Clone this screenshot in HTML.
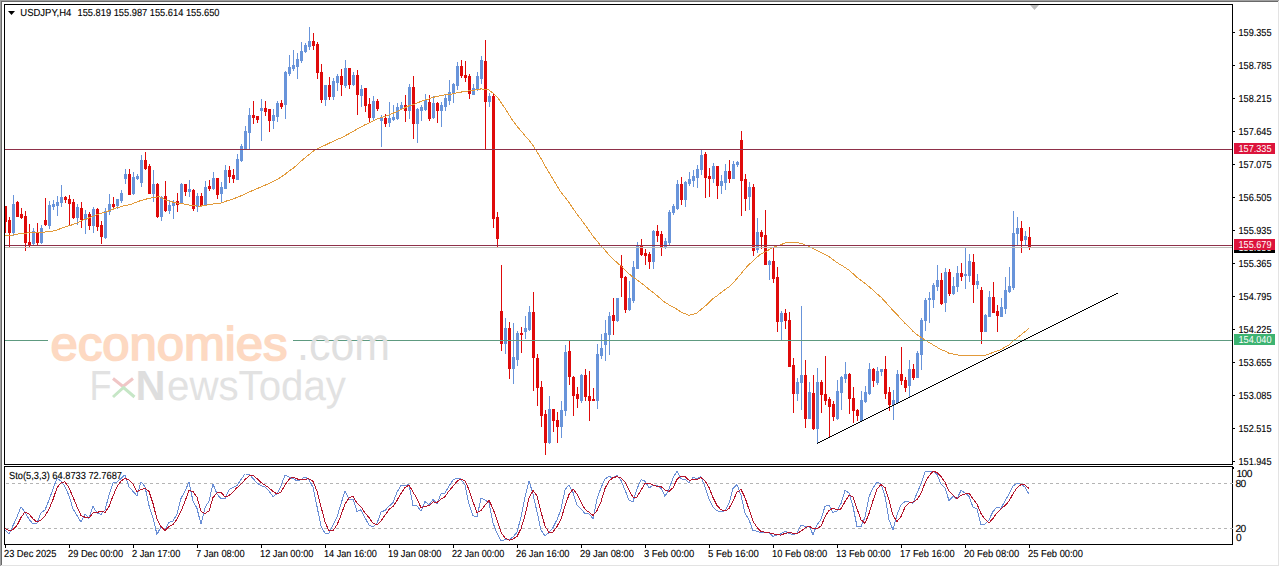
<!DOCTYPE html>
<html><head><meta charset="utf-8"><style>
html,body{margin:0;padding:0;background:#fff;width:1280px;height:567px;overflow:hidden}
</style></head><body>
<svg width="1280" height="567" viewBox="0 0 1280 567" style="display:block" text-rendering="geometricPrecision">
<rect x="0" y="0" width="1280" height="567" fill="#fff"/>
<g shape-rendering="crispEdges">
<rect x="0" y="0" width="1279" height="1" fill="#a0a0a0"/>
<rect x="0" y="0" width="1" height="566" fill="#a0a0a0"/>
<rect x="1" y="1" width="1277" height="1" fill="#696969"/>
<rect x="1" y="1" width="1" height="564" fill="#696969"/>
<rect x="1" y="565" width="1278" height="1" fill="#e3e3e3"/>
<rect x="1278" y="1" width="1" height="565" fill="#e3e3e3"/>
</g>
<g shape-rendering="crispEdges">
<rect x="5" y="206" width="1" height="27" fill="#df0a0a"/>
<rect x="4" y="206" width="3" height="16" fill="#df0a0a"/>
<rect x="9" y="217" width="1" height="31" fill="#df0a0a"/>
<rect x="8" y="220" width="3" height="13" fill="#df0a0a"/>
<rect x="13" y="195" width="1" height="41" fill="#6894da"/>
<rect x="12" y="204" width="3" height="29" fill="#6894da"/>
<rect x="17" y="201" width="1" height="16" fill="#df0a0a"/>
<rect x="16" y="202" width="3" height="15" fill="#df0a0a"/>
<rect x="21" y="208" width="1" height="11" fill="#df0a0a"/>
<rect x="20" y="214" width="3" height="4" fill="#df0a0a"/>
<rect x="25" y="211" width="1" height="40" fill="#df0a0a"/>
<rect x="24" y="216" width="3" height="27" fill="#df0a0a"/>
<rect x="29" y="224" width="1" height="24" fill="#df0a0a"/>
<rect x="28" y="242" width="3" height="3" fill="#df0a0a"/>
<rect x="33" y="228" width="1" height="17" fill="#6894da"/>
<rect x="32" y="231" width="3" height="13" fill="#6894da"/>
<rect x="37" y="223" width="1" height="23" fill="#df0a0a"/>
<rect x="36" y="232" width="3" height="11" fill="#df0a0a"/>
<rect x="41" y="225" width="1" height="19" fill="#6894da"/>
<rect x="40" y="228" width="3" height="15" fill="#6894da"/>
<rect x="45" y="198" width="1" height="28" fill="#df0a0a"/>
<rect x="44" y="220" width="3" height="5" fill="#df0a0a"/>
<rect x="49" y="201" width="1" height="28" fill="#6894da"/>
<rect x="48" y="205" width="3" height="21" fill="#6894da"/>
<rect x="53" y="200" width="1" height="10" fill="#6894da"/>
<rect x="52" y="204" width="3" height="3" fill="#6894da"/>
<rect x="57" y="196" width="1" height="20" fill="#6894da"/>
<rect x="56" y="202" width="3" height="4" fill="#6894da"/>
<rect x="61" y="185" width="1" height="22" fill="#6894da"/>
<rect x="60" y="197" width="3" height="6" fill="#6894da"/>
<rect x="65" y="196" width="1" height="7" fill="#df0a0a"/>
<rect x="64" y="197" width="3" height="3" fill="#df0a0a"/>
<rect x="69" y="195" width="1" height="30" fill="#df0a0a"/>
<rect x="68" y="199" width="3" height="5" fill="#df0a0a"/>
<rect x="73" y="199" width="1" height="20" fill="#df0a0a"/>
<rect x="72" y="202" width="3" height="16" fill="#df0a0a"/>
<rect x="77" y="204" width="1" height="21" fill="#6894da"/>
<rect x="76" y="207" width="3" height="11" fill="#6894da"/>
<rect x="81" y="202" width="1" height="26" fill="#df0a0a"/>
<rect x="80" y="208" width="3" height="12" fill="#df0a0a"/>
<rect x="85" y="210" width="1" height="24" fill="#6894da"/>
<rect x="84" y="214" width="3" height="6" fill="#6894da"/>
<rect x="89" y="212" width="1" height="18" fill="#df0a0a"/>
<rect x="88" y="214" width="3" height="12" fill="#df0a0a"/>
<rect x="93" y="207" width="1" height="26" fill="#6894da"/>
<rect x="92" y="209" width="3" height="17" fill="#6894da"/>
<rect x="97" y="208" width="1" height="23" fill="#df0a0a"/>
<rect x="96" y="209" width="3" height="18" fill="#df0a0a"/>
<rect x="101" y="221" width="1" height="23" fill="#df0a0a"/>
<rect x="100" y="225" width="3" height="12" fill="#df0a0a"/>
<rect x="105" y="208" width="1" height="31" fill="#6894da"/>
<rect x="104" y="211" width="3" height="27" fill="#6894da"/>
<rect x="109" y="194" width="1" height="21" fill="#6894da"/>
<rect x="108" y="204" width="3" height="8" fill="#6894da"/>
<rect x="113" y="197" width="1" height="11" fill="#df0a0a"/>
<rect x="112" y="204" width="3" height="3" fill="#df0a0a"/>
<rect x="117" y="199" width="1" height="10" fill="#6894da"/>
<rect x="116" y="199" width="3" height="7" fill="#6894da"/>
<rect x="121" y="190" width="1" height="13" fill="#6894da"/>
<rect x="120" y="193" width="3" height="8" fill="#6894da"/>
<rect x="125" y="169" width="1" height="15" fill="#6894da"/>
<rect x="124" y="174" width="3" height="5" fill="#6894da"/>
<rect x="129" y="169" width="1" height="26" fill="#df0a0a"/>
<rect x="128" y="174" width="3" height="21" fill="#df0a0a"/>
<rect x="133" y="172" width="1" height="23" fill="#6894da"/>
<rect x="132" y="177" width="3" height="17" fill="#6894da"/>
<rect x="137" y="174" width="1" height="6" fill="#6894da"/>
<rect x="136" y="176" width="3" height="3" fill="#6894da"/>
<rect x="141" y="155" width="1" height="32" fill="#6894da"/>
<rect x="140" y="160" width="3" height="23" fill="#6894da"/>
<rect x="145" y="152" width="1" height="18" fill="#df0a0a"/>
<rect x="144" y="160" width="3" height="9" fill="#df0a0a"/>
<rect x="149" y="164" width="1" height="30" fill="#df0a0a"/>
<rect x="148" y="166" width="3" height="28" fill="#df0a0a"/>
<rect x="153" y="170" width="1" height="32" fill="#6894da"/>
<rect x="152" y="184" width="3" height="10" fill="#6894da"/>
<rect x="157" y="183" width="1" height="35" fill="#df0a0a"/>
<rect x="156" y="184" width="3" height="33" fill="#df0a0a"/>
<rect x="161" y="196" width="1" height="25" fill="#6894da"/>
<rect x="160" y="197" width="3" height="20" fill="#6894da"/>
<rect x="165" y="181" width="1" height="31" fill="#df0a0a"/>
<rect x="164" y="196" width="3" height="15" fill="#df0a0a"/>
<rect x="169" y="200" width="1" height="14" fill="#6894da"/>
<rect x="168" y="205" width="3" height="6" fill="#6894da"/>
<rect x="173" y="200" width="1" height="19" fill="#6894da"/>
<rect x="172" y="202" width="3" height="4" fill="#6894da"/>
<rect x="177" y="193" width="1" height="19" fill="#df0a0a"/>
<rect x="176" y="201" width="3" height="4" fill="#df0a0a"/>
<rect x="181" y="183" width="1" height="21" fill="#6894da"/>
<rect x="180" y="184" width="3" height="20" fill="#6894da"/>
<rect x="185" y="184" width="1" height="12" fill="#df0a0a"/>
<rect x="184" y="184" width="3" height="8" fill="#df0a0a"/>
<rect x="189" y="180" width="1" height="17" fill="#6894da"/>
<rect x="188" y="189" width="3" height="3" fill="#6894da"/>
<rect x="193" y="189" width="1" height="22" fill="#df0a0a"/>
<rect x="192" y="190" width="3" height="19" fill="#df0a0a"/>
<rect x="197" y="193" width="1" height="19" fill="#6894da"/>
<rect x="196" y="196" width="3" height="11" fill="#6894da"/>
<rect x="201" y="193" width="1" height="14" fill="#df0a0a"/>
<rect x="200" y="196" width="3" height="10" fill="#df0a0a"/>
<rect x="205" y="181" width="1" height="24" fill="#6894da"/>
<rect x="204" y="187" width="3" height="18" fill="#6894da"/>
<rect x="209" y="180" width="1" height="11" fill="#df0a0a"/>
<rect x="208" y="186" width="3" height="3" fill="#df0a0a"/>
<rect x="213" y="172" width="1" height="18" fill="#6894da"/>
<rect x="212" y="178" width="3" height="11" fill="#6894da"/>
<rect x="217" y="178" width="1" height="21" fill="#df0a0a"/>
<rect x="216" y="178" width="3" height="17" fill="#df0a0a"/>
<rect x="221" y="182" width="1" height="20" fill="#6894da"/>
<rect x="220" y="187" width="3" height="7" fill="#6894da"/>
<rect x="225" y="165" width="1" height="24" fill="#6894da"/>
<rect x="224" y="170" width="3" height="19" fill="#6894da"/>
<rect x="229" y="166" width="1" height="17" fill="#df0a0a"/>
<rect x="228" y="170" width="3" height="7" fill="#df0a0a"/>
<rect x="233" y="169" width="1" height="14" fill="#df0a0a"/>
<rect x="232" y="175" width="3" height="4" fill="#df0a0a"/>
<rect x="237" y="154" width="1" height="26" fill="#6894da"/>
<rect x="236" y="159" width="3" height="21" fill="#6894da"/>
<rect x="241" y="144" width="1" height="18" fill="#6894da"/>
<rect x="240" y="146" width="3" height="15" fill="#6894da"/>
<rect x="245" y="126" width="1" height="23" fill="#6894da"/>
<rect x="244" y="131" width="3" height="18" fill="#6894da"/>
<rect x="249" y="108" width="1" height="42" fill="#6894da"/>
<rect x="248" y="115" width="3" height="18" fill="#6894da"/>
<rect x="253" y="101" width="1" height="23" fill="#df0a0a"/>
<rect x="252" y="115" width="3" height="3" fill="#df0a0a"/>
<rect x="257" y="116" width="1" height="7" fill="#df0a0a"/>
<rect x="256" y="116" width="3" height="4" fill="#df0a0a"/>
<rect x="261" y="99" width="1" height="42" fill="#6894da"/>
<rect x="260" y="108" width="3" height="3" fill="#6894da"/>
<rect x="265" y="101" width="1" height="15" fill="#df0a0a"/>
<rect x="264" y="108" width="3" height="4" fill="#df0a0a"/>
<rect x="269" y="109" width="1" height="23" fill="#df0a0a"/>
<rect x="268" y="109" width="3" height="12" fill="#df0a0a"/>
<rect x="273" y="109" width="1" height="20" fill="#6894da"/>
<rect x="272" y="115" width="3" height="6" fill="#6894da"/>
<rect x="277" y="101" width="1" height="21" fill="#6894da"/>
<rect x="276" y="103" width="3" height="14" fill="#6894da"/>
<rect x="281" y="100" width="1" height="9" fill="#df0a0a"/>
<rect x="280" y="103" width="3" height="4" fill="#df0a0a"/>
<rect x="285" y="71" width="1" height="48" fill="#6894da"/>
<rect x="284" y="72" width="3" height="33" fill="#6894da"/>
<rect x="289" y="55" width="1" height="21" fill="#6894da"/>
<rect x="288" y="67" width="3" height="7" fill="#6894da"/>
<rect x="293" y="50" width="1" height="21" fill="#6894da"/>
<rect x="292" y="65" width="3" height="4" fill="#6894da"/>
<rect x="297" y="53" width="1" height="26" fill="#6894da"/>
<rect x="296" y="59" width="3" height="8" fill="#6894da"/>
<rect x="301" y="42" width="1" height="21" fill="#6894da"/>
<rect x="300" y="51" width="3" height="10" fill="#6894da"/>
<rect x="305" y="43" width="1" height="10" fill="#6894da"/>
<rect x="304" y="45" width="3" height="7" fill="#6894da"/>
<rect x="309" y="27" width="1" height="23" fill="#6894da"/>
<rect x="308" y="41" width="3" height="6" fill="#6894da"/>
<rect x="313" y="33" width="1" height="17" fill="#df0a0a"/>
<rect x="312" y="41" width="3" height="5" fill="#df0a0a"/>
<rect x="317" y="42" width="1" height="37" fill="#df0a0a"/>
<rect x="316" y="44" width="3" height="29" fill="#df0a0a"/>
<rect x="321" y="64" width="1" height="39" fill="#df0a0a"/>
<rect x="320" y="72" width="3" height="28" fill="#df0a0a"/>
<rect x="325" y="85" width="1" height="21" fill="#6894da"/>
<rect x="324" y="85" width="3" height="15" fill="#6894da"/>
<rect x="329" y="77" width="1" height="23" fill="#df0a0a"/>
<rect x="328" y="85" width="3" height="12" fill="#df0a0a"/>
<rect x="333" y="78" width="1" height="22" fill="#6894da"/>
<rect x="332" y="81" width="3" height="16" fill="#6894da"/>
<rect x="337" y="74" width="1" height="17" fill="#6894da"/>
<rect x="336" y="76" width="3" height="7" fill="#6894da"/>
<rect x="341" y="69" width="1" height="27" fill="#df0a0a"/>
<rect x="340" y="76" width="3" height="9" fill="#df0a0a"/>
<rect x="345" y="60" width="1" height="28" fill="#6894da"/>
<rect x="344" y="68" width="3" height="18" fill="#6894da"/>
<rect x="349" y="68" width="1" height="21" fill="#df0a0a"/>
<rect x="348" y="68" width="3" height="17" fill="#df0a0a"/>
<rect x="353" y="72" width="1" height="14" fill="#6894da"/>
<rect x="352" y="75" width="3" height="10" fill="#6894da"/>
<rect x="357" y="70" width="1" height="45" fill="#df0a0a"/>
<rect x="356" y="75" width="3" height="20" fill="#df0a0a"/>
<rect x="361" y="85" width="1" height="22" fill="#6894da"/>
<rect x="360" y="89" width="3" height="7" fill="#6894da"/>
<rect x="365" y="88" width="1" height="24" fill="#df0a0a"/>
<rect x="364" y="88" width="3" height="18" fill="#df0a0a"/>
<rect x="369" y="98" width="1" height="24" fill="#df0a0a"/>
<rect x="368" y="104" width="3" height="14" fill="#df0a0a"/>
<rect x="373" y="96" width="1" height="25" fill="#6894da"/>
<rect x="372" y="101" width="3" height="17" fill="#6894da"/>
<rect x="377" y="99" width="1" height="12" fill="#df0a0a"/>
<rect x="376" y="101" width="3" height="8" fill="#df0a0a"/>
<rect x="381" y="115" width="1" height="32" fill="#6894da"/>
<rect x="380" y="118" width="3" height="3" fill="#6894da"/>
<rect x="385" y="114" width="1" height="13" fill="#df0a0a"/>
<rect x="384" y="118" width="3" height="6" fill="#df0a0a"/>
<rect x="389" y="102" width="1" height="25" fill="#6894da"/>
<rect x="388" y="118" width="3" height="5" fill="#6894da"/>
<rect x="393" y="105" width="1" height="16" fill="#6894da"/>
<rect x="392" y="117" width="3" height="3" fill="#6894da"/>
<rect x="397" y="103" width="1" height="17" fill="#6894da"/>
<rect x="396" y="107" width="3" height="12" fill="#6894da"/>
<rect x="401" y="102" width="1" height="7" fill="#6894da"/>
<rect x="400" y="105" width="3" height="4" fill="#6894da"/>
<rect x="405" y="95" width="1" height="27" fill="#df0a0a"/>
<rect x="404" y="105" width="3" height="6" fill="#df0a0a"/>
<rect x="409" y="84" width="1" height="35" fill="#6894da"/>
<rect x="408" y="87" width="3" height="24" fill="#6894da"/>
<rect x="413" y="76" width="1" height="63" fill="#df0a0a"/>
<rect x="412" y="87" width="3" height="37" fill="#df0a0a"/>
<rect x="417" y="108" width="1" height="35" fill="#6894da"/>
<rect x="416" y="109" width="3" height="15" fill="#6894da"/>
<rect x="421" y="105" width="1" height="16" fill="#6894da"/>
<rect x="420" y="107" width="3" height="4" fill="#6894da"/>
<rect x="425" y="94" width="1" height="17" fill="#6894da"/>
<rect x="424" y="100" width="3" height="10" fill="#6894da"/>
<rect x="429" y="95" width="1" height="26" fill="#df0a0a"/>
<rect x="428" y="102" width="3" height="17" fill="#df0a0a"/>
<rect x="433" y="96" width="1" height="23" fill="#6894da"/>
<rect x="432" y="103" width="3" height="15" fill="#6894da"/>
<rect x="437" y="102" width="1" height="21" fill="#df0a0a"/>
<rect x="436" y="103" width="3" height="8" fill="#df0a0a"/>
<rect x="441" y="102" width="1" height="25" fill="#6894da"/>
<rect x="440" y="105" width="3" height="6" fill="#6894da"/>
<rect x="445" y="95" width="1" height="16" fill="#6894da"/>
<rect x="444" y="98" width="3" height="9" fill="#6894da"/>
<rect x="449" y="80" width="1" height="25" fill="#6894da"/>
<rect x="448" y="92" width="3" height="9" fill="#6894da"/>
<rect x="453" y="83" width="1" height="20" fill="#6894da"/>
<rect x="452" y="84" width="3" height="10" fill="#6894da"/>
<rect x="457" y="62" width="1" height="28" fill="#6894da"/>
<rect x="456" y="66" width="3" height="20" fill="#6894da"/>
<rect x="461" y="60" width="1" height="18" fill="#df0a0a"/>
<rect x="460" y="66" width="3" height="10" fill="#df0a0a"/>
<rect x="465" y="61" width="1" height="21" fill="#df0a0a"/>
<rect x="464" y="75" width="3" height="3" fill="#df0a0a"/>
<rect x="469" y="74" width="1" height="25" fill="#df0a0a"/>
<rect x="468" y="76" width="3" height="18" fill="#df0a0a"/>
<rect x="473" y="84" width="1" height="11" fill="#6894da"/>
<rect x="472" y="88" width="3" height="7" fill="#6894da"/>
<rect x="477" y="72" width="1" height="19" fill="#6894da"/>
<rect x="476" y="76" width="3" height="14" fill="#6894da"/>
<rect x="481" y="56" width="1" height="28" fill="#6894da"/>
<rect x="480" y="60" width="3" height="19" fill="#6894da"/>
<rect x="485" y="40" width="1" height="110" fill="#df0a0a"/>
<rect x="484" y="61" width="3" height="41" fill="#df0a0a"/>
<rect x="489" y="93" width="1" height="14" fill="#6894da"/>
<rect x="488" y="96" width="3" height="6" fill="#6894da"/>
<rect x="493" y="94" width="1" height="134" fill="#df0a0a"/>
<rect x="492" y="96" width="3" height="123" fill="#df0a0a"/>
<rect x="497" y="212" width="1" height="35" fill="#df0a0a"/>
<rect x="496" y="217" width="3" height="22" fill="#df0a0a"/>
<rect x="501" y="265" width="1" height="86" fill="#df0a0a"/>
<rect x="500" y="311" width="3" height="33" fill="#df0a0a"/>
<rect x="505" y="318" width="1" height="36" fill="#6894da"/>
<rect x="504" y="328" width="3" height="16" fill="#6894da"/>
<rect x="509" y="322" width="1" height="57" fill="#df0a0a"/>
<rect x="508" y="328" width="3" height="41" fill="#df0a0a"/>
<rect x="513" y="323" width="1" height="61" fill="#6894da"/>
<rect x="512" y="357" width="3" height="12" fill="#6894da"/>
<rect x="517" y="331" width="1" height="35" fill="#6894da"/>
<rect x="516" y="333" width="3" height="27" fill="#6894da"/>
<rect x="521" y="327" width="1" height="26" fill="#df0a0a"/>
<rect x="520" y="333" width="3" height="2" fill="#df0a0a"/>
<rect x="525" y="316" width="1" height="23" fill="#6894da"/>
<rect x="524" y="328" width="3" height="4" fill="#6894da"/>
<rect x="529" y="306" width="1" height="25" fill="#6894da"/>
<rect x="528" y="312" width="3" height="18" fill="#6894da"/>
<rect x="533" y="292" width="1" height="99" fill="#df0a0a"/>
<rect x="532" y="312" width="3" height="46" fill="#df0a0a"/>
<rect x="537" y="354" width="1" height="52" fill="#df0a0a"/>
<rect x="536" y="358" width="3" height="30" fill="#df0a0a"/>
<rect x="541" y="381" width="1" height="46" fill="#df0a0a"/>
<rect x="540" y="387" width="3" height="29" fill="#df0a0a"/>
<rect x="545" y="410" width="1" height="45" fill="#df0a0a"/>
<rect x="544" y="414" width="3" height="29" fill="#df0a0a"/>
<rect x="549" y="396" width="1" height="48" fill="#6894da"/>
<rect x="548" y="409" width="3" height="34" fill="#6894da"/>
<rect x="553" y="409" width="1" height="23" fill="#df0a0a"/>
<rect x="552" y="409" width="3" height="12" fill="#df0a0a"/>
<rect x="557" y="412" width="1" height="31" fill="#df0a0a"/>
<rect x="556" y="420" width="3" height="7" fill="#df0a0a"/>
<rect x="561" y="401" width="1" height="37" fill="#6894da"/>
<rect x="560" y="410" width="3" height="17" fill="#6894da"/>
<rect x="565" y="345" width="1" height="71" fill="#6894da"/>
<rect x="564" y="352" width="3" height="59" fill="#6894da"/>
<rect x="569" y="341" width="1" height="44" fill="#df0a0a"/>
<rect x="568" y="351" width="3" height="26" fill="#df0a0a"/>
<rect x="573" y="376" width="1" height="40" fill="#df0a0a"/>
<rect x="572" y="377" width="3" height="19" fill="#df0a0a"/>
<rect x="577" y="387" width="1" height="21" fill="#df0a0a"/>
<rect x="576" y="394" width="3" height="5" fill="#df0a0a"/>
<rect x="581" y="374" width="1" height="29" fill="#6894da"/>
<rect x="580" y="375" width="3" height="26" fill="#6894da"/>
<rect x="585" y="369" width="1" height="32" fill="#df0a0a"/>
<rect x="584" y="375" width="3" height="22" fill="#df0a0a"/>
<rect x="589" y="371" width="1" height="50" fill="#df0a0a"/>
<rect x="588" y="396" width="3" height="5" fill="#df0a0a"/>
<rect x="593" y="388" width="1" height="13" fill="#df0a0a"/>
<rect x="592" y="399" width="3" height="2" fill="#df0a0a"/>
<rect x="597" y="344" width="1" height="65" fill="#6894da"/>
<rect x="596" y="354" width="3" height="47" fill="#6894da"/>
<rect x="601" y="334" width="1" height="25" fill="#6894da"/>
<rect x="600" y="348" width="3" height="8" fill="#6894da"/>
<rect x="605" y="320" width="1" height="41" fill="#6894da"/>
<rect x="604" y="333" width="3" height="12" fill="#6894da"/>
<rect x="609" y="312" width="1" height="43" fill="#6894da"/>
<rect x="608" y="316" width="3" height="19" fill="#6894da"/>
<rect x="613" y="298" width="1" height="37" fill="#df0a0a"/>
<rect x="612" y="315" width="3" height="6" fill="#df0a0a"/>
<rect x="617" y="298" width="1" height="24" fill="#6894da"/>
<rect x="616" y="298" width="3" height="23" fill="#6894da"/>
<rect x="621" y="255" width="1" height="42" fill="#df0a0a"/>
<rect x="620" y="266" width="3" height="12" fill="#df0a0a"/>
<rect x="625" y="276" width="1" height="37" fill="#df0a0a"/>
<rect x="624" y="277" width="3" height="33" fill="#df0a0a"/>
<rect x="629" y="281" width="1" height="30" fill="#6894da"/>
<rect x="628" y="298" width="3" height="12" fill="#6894da"/>
<rect x="633" y="261" width="1" height="42" fill="#6894da"/>
<rect x="632" y="267" width="3" height="34" fill="#6894da"/>
<rect x="637" y="242" width="1" height="27" fill="#6894da"/>
<rect x="636" y="246" width="3" height="23" fill="#6894da"/>
<rect x="641" y="239" width="1" height="17" fill="#df0a0a"/>
<rect x="640" y="245" width="3" height="10" fill="#df0a0a"/>
<rect x="645" y="249" width="1" height="16" fill="#df0a0a"/>
<rect x="644" y="253" width="3" height="3" fill="#df0a0a"/>
<rect x="649" y="252" width="1" height="17" fill="#df0a0a"/>
<rect x="648" y="254" width="3" height="8" fill="#df0a0a"/>
<rect x="653" y="230" width="1" height="39" fill="#6894da"/>
<rect x="652" y="231" width="3" height="31" fill="#6894da"/>
<rect x="657" y="225" width="1" height="17" fill="#df0a0a"/>
<rect x="656" y="231" width="3" height="5" fill="#df0a0a"/>
<rect x="661" y="231" width="1" height="25" fill="#df0a0a"/>
<rect x="660" y="234" width="3" height="14" fill="#df0a0a"/>
<rect x="665" y="238" width="1" height="11" fill="#6894da"/>
<rect x="664" y="241" width="3" height="7" fill="#6894da"/>
<rect x="669" y="210" width="1" height="36" fill="#6894da"/>
<rect x="668" y="212" width="3" height="31" fill="#6894da"/>
<rect x="673" y="204" width="1" height="11" fill="#6894da"/>
<rect x="672" y="206" width="3" height="7" fill="#6894da"/>
<rect x="677" y="180" width="1" height="30" fill="#6894da"/>
<rect x="676" y="184" width="3" height="25" fill="#6894da"/>
<rect x="681" y="177" width="1" height="28" fill="#df0a0a"/>
<rect x="680" y="184" width="3" height="16" fill="#df0a0a"/>
<rect x="685" y="181" width="1" height="26" fill="#6894da"/>
<rect x="684" y="182" width="3" height="18" fill="#6894da"/>
<rect x="689" y="172" width="1" height="14" fill="#6894da"/>
<rect x="688" y="179" width="3" height="5" fill="#6894da"/>
<rect x="693" y="170" width="1" height="17" fill="#6894da"/>
<rect x="692" y="176" width="3" height="5" fill="#6894da"/>
<rect x="697" y="165" width="1" height="23" fill="#6894da"/>
<rect x="696" y="169" width="3" height="9" fill="#6894da"/>
<rect x="701" y="150" width="1" height="25" fill="#6894da"/>
<rect x="700" y="155" width="3" height="15" fill="#6894da"/>
<rect x="705" y="152" width="1" height="46" fill="#df0a0a"/>
<rect x="704" y="154" width="3" height="24" fill="#df0a0a"/>
<rect x="709" y="168" width="1" height="29" fill="#df0a0a"/>
<rect x="708" y="176" width="3" height="3" fill="#df0a0a"/>
<rect x="713" y="163" width="1" height="20" fill="#6894da"/>
<rect x="712" y="166" width="3" height="13" fill="#6894da"/>
<rect x="717" y="166" width="1" height="33" fill="#df0a0a"/>
<rect x="716" y="166" width="3" height="20" fill="#df0a0a"/>
<rect x="721" y="175" width="1" height="19" fill="#6894da"/>
<rect x="720" y="181" width="3" height="5" fill="#6894da"/>
<rect x="725" y="164" width="1" height="26" fill="#6894da"/>
<rect x="724" y="171" width="3" height="12" fill="#6894da"/>
<rect x="729" y="160" width="1" height="23" fill="#df0a0a"/>
<rect x="728" y="171" width="3" height="8" fill="#df0a0a"/>
<rect x="733" y="161" width="1" height="18" fill="#6894da"/>
<rect x="732" y="164" width="3" height="15" fill="#6894da"/>
<rect x="737" y="161" width="1" height="6" fill="#6894da"/>
<rect x="736" y="162" width="3" height="3" fill="#6894da"/>
<rect x="741" y="131" width="1" height="85" fill="#df0a0a"/>
<rect x="740" y="140" width="3" height="41" fill="#df0a0a"/>
<rect x="745" y="174" width="1" height="37" fill="#df0a0a"/>
<rect x="744" y="179" width="3" height="20" fill="#df0a0a"/>
<rect x="749" y="182" width="1" height="28" fill="#6894da"/>
<rect x="748" y="187" width="3" height="10" fill="#6894da"/>
<rect x="753" y="184" width="1" height="72" fill="#df0a0a"/>
<rect x="752" y="187" width="3" height="64" fill="#df0a0a"/>
<rect x="757" y="218" width="1" height="35" fill="#6894da"/>
<rect x="756" y="232" width="3" height="18" fill="#6894da"/>
<rect x="761" y="230" width="1" height="19" fill="#df0a0a"/>
<rect x="760" y="232" width="3" height="5" fill="#df0a0a"/>
<rect x="765" y="210" width="1" height="55" fill="#df0a0a"/>
<rect x="764" y="235" width="3" height="30" fill="#df0a0a"/>
<rect x="769" y="260" width="1" height="20" fill="#6894da"/>
<rect x="768" y="261" width="3" height="4" fill="#6894da"/>
<rect x="773" y="247" width="1" height="36" fill="#df0a0a"/>
<rect x="772" y="261" width="3" height="18" fill="#df0a0a"/>
<rect x="777" y="267" width="1" height="65" fill="#df0a0a"/>
<rect x="776" y="277" width="3" height="45" fill="#df0a0a"/>
<rect x="781" y="311" width="1" height="30" fill="#6894da"/>
<rect x="780" y="313" width="3" height="9" fill="#6894da"/>
<rect x="785" y="309" width="1" height="20" fill="#df0a0a"/>
<rect x="784" y="313" width="3" height="8" fill="#df0a0a"/>
<rect x="789" y="312" width="1" height="55" fill="#df0a0a"/>
<rect x="788" y="320" width="3" height="47" fill="#df0a0a"/>
<rect x="793" y="358" width="1" height="55" fill="#df0a0a"/>
<rect x="792" y="365" width="3" height="29" fill="#df0a0a"/>
<rect x="797" y="378" width="1" height="23" fill="#6894da"/>
<rect x="796" y="382" width="3" height="12" fill="#6894da"/>
<rect x="801" y="306" width="1" height="104" fill="#6894da"/>
<rect x="800" y="375" width="3" height="8" fill="#6894da"/>
<rect x="805" y="360" width="1" height="68" fill="#df0a0a"/>
<rect x="804" y="375" width="3" height="44" fill="#df0a0a"/>
<rect x="809" y="382" width="1" height="37" fill="#6894da"/>
<rect x="808" y="392" width="3" height="27" fill="#6894da"/>
<rect x="813" y="375" width="1" height="55" fill="#df0a0a"/>
<rect x="812" y="393" width="3" height="36" fill="#df0a0a"/>
<rect x="817" y="368" width="1" height="76" fill="#6894da"/>
<rect x="816" y="382" width="3" height="47" fill="#6894da"/>
<rect x="821" y="380" width="1" height="33" fill="#df0a0a"/>
<rect x="820" y="382" width="3" height="13" fill="#df0a0a"/>
<rect x="825" y="356" width="1" height="49" fill="#df0a0a"/>
<rect x="824" y="394" width="3" height="7" fill="#df0a0a"/>
<rect x="829" y="397" width="1" height="40" fill="#df0a0a"/>
<rect x="828" y="399" width="3" height="8" fill="#df0a0a"/>
<rect x="833" y="401" width="1" height="20" fill="#df0a0a"/>
<rect x="832" y="404" width="3" height="13" fill="#df0a0a"/>
<rect x="837" y="380" width="1" height="40" fill="#6894da"/>
<rect x="836" y="391" width="3" height="28" fill="#6894da"/>
<rect x="841" y="376" width="1" height="34" fill="#6894da"/>
<rect x="840" y="377" width="3" height="16" fill="#6894da"/>
<rect x="845" y="362" width="1" height="21" fill="#6894da"/>
<rect x="844" y="374" width="3" height="5" fill="#6894da"/>
<rect x="849" y="373" width="1" height="41" fill="#df0a0a"/>
<rect x="848" y="374" width="3" height="25" fill="#df0a0a"/>
<rect x="853" y="387" width="1" height="36" fill="#df0a0a"/>
<rect x="852" y="398" width="3" height="13" fill="#df0a0a"/>
<rect x="857" y="409" width="1" height="12" fill="#df0a0a"/>
<rect x="856" y="410" width="3" height="6" fill="#df0a0a"/>
<rect x="861" y="391" width="1" height="31" fill="#6894da"/>
<rect x="860" y="400" width="3" height="21" fill="#6894da"/>
<rect x="865" y="386" width="1" height="17" fill="#6894da"/>
<rect x="864" y="392" width="3" height="10" fill="#6894da"/>
<rect x="869" y="363" width="1" height="32" fill="#6894da"/>
<rect x="868" y="369" width="3" height="25" fill="#6894da"/>
<rect x="873" y="368" width="1" height="19" fill="#df0a0a"/>
<rect x="872" y="369" width="3" height="12" fill="#df0a0a"/>
<rect x="877" y="367" width="1" height="18" fill="#6894da"/>
<rect x="876" y="371" width="3" height="12" fill="#6894da"/>
<rect x="881" y="369" width="1" height="7" fill="#6894da"/>
<rect x="880" y="369" width="3" height="3" fill="#6894da"/>
<rect x="885" y="356" width="1" height="43" fill="#df0a0a"/>
<rect x="884" y="369" width="3" height="25" fill="#df0a0a"/>
<rect x="889" y="387" width="1" height="24" fill="#df0a0a"/>
<rect x="888" y="392" width="3" height="13" fill="#df0a0a"/>
<rect x="893" y="390" width="1" height="30" fill="#6894da"/>
<rect x="892" y="400" width="3" height="5" fill="#6894da"/>
<rect x="897" y="370" width="1" height="33" fill="#6894da"/>
<rect x="896" y="374" width="3" height="29" fill="#6894da"/>
<rect x="901" y="347" width="1" height="38" fill="#df0a0a"/>
<rect x="900" y="374" width="3" height="7" fill="#df0a0a"/>
<rect x="905" y="377" width="1" height="15" fill="#df0a0a"/>
<rect x="904" y="380" width="3" height="8" fill="#df0a0a"/>
<rect x="909" y="360" width="1" height="37" fill="#6894da"/>
<rect x="908" y="369" width="3" height="17" fill="#6894da"/>
<rect x="913" y="364" width="1" height="16" fill="#df0a0a"/>
<rect x="912" y="369" width="3" height="9" fill="#df0a0a"/>
<rect x="917" y="351" width="1" height="27" fill="#6894da"/>
<rect x="916" y="353" width="3" height="25" fill="#6894da"/>
<rect x="921" y="318" width="1" height="52" fill="#6894da"/>
<rect x="920" y="320" width="3" height="35" fill="#6894da"/>
<rect x="925" y="298" width="1" height="33" fill="#6894da"/>
<rect x="924" y="300" width="3" height="21" fill="#6894da"/>
<rect x="929" y="292" width="1" height="31" fill="#6894da"/>
<rect x="928" y="298" width="3" height="2" fill="#6894da"/>
<rect x="933" y="283" width="1" height="25" fill="#6894da"/>
<rect x="932" y="285" width="3" height="15" fill="#6894da"/>
<rect x="937" y="265" width="1" height="26" fill="#6894da"/>
<rect x="936" y="280" width="3" height="7" fill="#6894da"/>
<rect x="941" y="273" width="1" height="32" fill="#df0a0a"/>
<rect x="940" y="280" width="3" height="24" fill="#df0a0a"/>
<rect x="945" y="268" width="1" height="44" fill="#6894da"/>
<rect x="944" y="272" width="3" height="31" fill="#6894da"/>
<rect x="949" y="269" width="1" height="27" fill="#df0a0a"/>
<rect x="948" y="272" width="3" height="22" fill="#df0a0a"/>
<rect x="953" y="277" width="1" height="18" fill="#6894da"/>
<rect x="952" y="286" width="3" height="8" fill="#6894da"/>
<rect x="957" y="266" width="1" height="26" fill="#6894da"/>
<rect x="956" y="273" width="3" height="14" fill="#6894da"/>
<rect x="961" y="263" width="1" height="18" fill="#df0a0a"/>
<rect x="960" y="273" width="3" height="4" fill="#df0a0a"/>
<rect x="965" y="247" width="1" height="42" fill="#6894da"/>
<rect x="964" y="274" width="3" height="2" fill="#6894da"/>
<rect x="969" y="254" width="1" height="28" fill="#6894da"/>
<rect x="968" y="261" width="3" height="15" fill="#6894da"/>
<rect x="973" y="254" width="1" height="49" fill="#df0a0a"/>
<rect x="972" y="262" width="3" height="23" fill="#df0a0a"/>
<rect x="977" y="274" width="1" height="15" fill="#6894da"/>
<rect x="976" y="281" width="3" height="4" fill="#6894da"/>
<rect x="981" y="287" width="1" height="57" fill="#df0a0a"/>
<rect x="980" y="290" width="3" height="42" fill="#df0a0a"/>
<rect x="985" y="314" width="1" height="18" fill="#6894da"/>
<rect x="984" y="315" width="3" height="17" fill="#6894da"/>
<rect x="989" y="291" width="1" height="26" fill="#6894da"/>
<rect x="988" y="297" width="3" height="20" fill="#6894da"/>
<rect x="993" y="282" width="1" height="31" fill="#df0a0a"/>
<rect x="992" y="297" width="3" height="16" fill="#df0a0a"/>
<rect x="997" y="305" width="1" height="27" fill="#df0a0a"/>
<rect x="996" y="311" width="3" height="5" fill="#df0a0a"/>
<rect x="1001" y="298" width="1" height="19" fill="#6894da"/>
<rect x="1000" y="307" width="3" height="10" fill="#6894da"/>
<rect x="1005" y="277" width="1" height="37" fill="#6894da"/>
<rect x="1004" y="290" width="3" height="19" fill="#6894da"/>
<rect x="1009" y="267" width="1" height="26" fill="#6894da"/>
<rect x="1008" y="286" width="3" height="6" fill="#6894da"/>
<rect x="1013" y="211" width="1" height="79" fill="#6894da"/>
<rect x="1012" y="233" width="3" height="55" fill="#6894da"/>
<rect x="1017" y="217" width="1" height="29" fill="#6894da"/>
<rect x="1016" y="228" width="3" height="6" fill="#6894da"/>
<rect x="1021" y="221" width="1" height="32" fill="#df0a0a"/>
<rect x="1020" y="228" width="3" height="13" fill="#df0a0a"/>
<rect x="1025" y="231" width="1" height="14" fill="#6894da"/>
<rect x="1024" y="236" width="3" height="4" fill="#6894da"/>
<rect x="1029" y="227" width="1" height="23" fill="#df0a0a"/>
<rect x="1028" y="237" width="3" height="10" fill="#df0a0a"/>
</g>
<polyline points="5.0,236.0 10.9,235.4 18.9,233.8 26.8,233.0 34.7,232.2 42.7,232.2 50.6,231.4 55.4,230.6 63.3,227.5 71.3,225.1 77.6,222.7 83.0,219.9 90.9,217.2 98.9,214.0 106.8,211.7 114.7,208.5 122.7,206.1 130.6,204.5 138.6,201.3 146.5,199.0 154.4,197.4 159.0,196.6 166.9,200.3 174.9,202.7 182.8,203.8 190.7,205.3 197.0,206.0 201.0,206.1 205.0,205.4 209.0,204.6 213.0,204.0 217.0,203.6 221.0,203.0 225.0,201.5 229.0,200.2 233.0,199.1 237.0,197.4 241.0,195.8 245.0,193.9 249.0,192.1 253.0,190.4 257.0,188.7 261.0,186.9 265.0,185.2 269.0,183.5 273.0,181.5 277.0,179.4 281.0,177.2 285.0,174.3 289.0,171.2 293.0,168.3 297.0,164.9 301.0,161.2 305.0,157.9 309.0,154.6 313.0,151.4 317.0,148.9 321.0,147.0 325.0,145.3 329.0,143.3 333.0,141.4 337.0,139.4 341.0,137.9 345.0,135.9 349.0,133.7 353.0,131.5 357.0,129.1 361.0,126.9 365.0,124.8 369.0,123.0 373.0,121.0 377.0,119.1 381.0,117.8 385.0,116.4 389.0,115.0 393.0,113.2 397.0,111.4 401.0,109.4 405.0,107.8 409.0,105.8 413.0,104.7 417.0,103.0 421.0,101.4 425.0,100.0 429.0,98.9 433.0,97.4 437.0,96.4 441.0,95.6 445.0,94.9 449.0,94.5 453.0,93.8 457.0,92.8 461.0,92.1 465.0,91.4 469.0,90.9 473.0,90.3 477.0,89.8 481.0,88.9 485.0,89.4 489.0,90.0 493.0,93.1 497.0,96.7 501.0,102.5 505.0,108.2 509.0,114.7 513.0,121.0 517.0,126.2 521.0,130.9 525.0,135.7 529.0,140.0 533.0,145.6 537.0,151.8 541.0,158.4 545.0,165.9 549.0,172.4 553.0,179.3 557.0,185.9 561.0,192.3 565.0,197.3 569.0,202.5 573.0,208.4 577.0,214.2 581.0,219.3 585.0,224.8 589.0,230.4 593.0,236.1 597.0,241.0 601.0,245.9 605.0,250.3 609.0,254.9 613.0,258.9 617.0,262.6 621.0,266.1 625.0,270.2 629.0,273.8 633.0,277.1 637.0,279.8 641.0,282.8 645.0,286.0 649.0,289.3 653.0,292.3 657.0,295.6 661.0,299.1 665.0,302.4 669.0,304.8 673.0,307.1 677.0,309.3 681.0,312.1 685.0,313.7 689.0,315.3 693.0,314.5 697.0,313.1 701.0,309.4 705.0,306.3 709.0,302.5 713.0,298.7 717.0,295.8 721.0,292.7 725.0,289.6 729.0,286.9 733.0,283.0 737.0,278.5 741.0,273.8 745.0,268.9 749.0,264.5 753.0,261.1 757.0,257.2 761.0,253.8 765.0,252.0 769.0,249.7 773.0,247.3 777.0,245.8 781.0,244.6 785.0,243.0 789.0,242.3 793.0,242.2 797.0,242.8 801.0,243.3 805.0,245.0 809.0,246.5 813.0,248.7 817.0,250.4 821.0,252.7 825.0,254.5 829.0,256.7 833.0,259.7 837.0,262.6 841.0,265.0 845.0,267.4 849.0,270.2 853.0,273.7 857.0,277.4 861.0,280.4 865.0,283.4 869.0,286.6 873.0,290.1 877.0,293.8 881.0,297.2 885.0,301.4 889.0,306.0 893.0,310.4 897.0,314.5 901.0,319.1 905.0,323.3 909.0,327.1 913.0,331.3 917.0,334.6 921.0,337.4 925.0,340.0 929.0,342.4 933.0,344.8 937.0,347.2 941.0,349.6 945.0,351.1 949.0,353.2 953.0,354.0 957.0,354.8 961.0,355.6 965.0,355.8 969.0,355.8 973.0,355.9 977.0,355.1 981.0,355.4 985.0,355.4 989.0,354.0 993.0,352.4 997.0,351.0 1001.0,349.6 1005.0,347.1 1009.0,345.0 1013.0,341.1 1017.0,338.0 1021.0,334.9 1025.0,331.6 1029.0,328.4" fill="none" stroke="#e29a3a" stroke-width="1" shape-rendering="crispEdges"/>
<g shape-rendering="crispEdges">
<rect x="5" y="149" width="1227" height="1" fill="#8e3049"/>
<rect x="5" y="245" width="1227" height="1" fill="#8e3049"/>
<rect x="5" y="247" width="1227" height="1" fill="#bdbdb8"/>
<rect x="5" y="340" width="1227" height="1" fill="#5e9a80"/>
</g>
<g fill="#000" shape-rendering="crispEdges"><rect x="817" y="443" width="1" height="1"/><rect x="818" y="442" width="2" height="1"/><rect x="820" y="441" width="2" height="1"/><rect x="822" y="440" width="2" height="1"/><rect x="824" y="439" width="2" height="1"/><rect x="826" y="438" width="2" height="1"/><rect x="828" y="437" width="2" height="1"/><rect x="830" y="436" width="2" height="1"/><rect x="832" y="435" width="2" height="1"/><rect x="834" y="434" width="2" height="1"/><rect x="836" y="433" width="2" height="1"/><rect x="838" y="432" width="2" height="1"/><rect x="840" y="431" width="2" height="1"/><rect x="842" y="430" width="2" height="1"/><rect x="844" y="429" width="2" height="1"/><rect x="846" y="428" width="2" height="1"/><rect x="848" y="427" width="2" height="1"/><rect x="850" y="426" width="2" height="1"/><rect x="852" y="425" width="2" height="1"/><rect x="854" y="424" width="2" height="1"/><rect x="856" y="423" width="2" height="1"/><rect x="858" y="422" width="2" height="1"/><rect x="860" y="421" width="2" height="1"/><rect x="862" y="420" width="2" height="1"/><rect x="864" y="419" width="2" height="1"/><rect x="866" y="418" width="2" height="1"/><rect x="868" y="417" width="2" height="1"/><rect x="870" y="416" width="2" height="1"/><rect x="872" y="415" width="2" height="1"/><rect x="874" y="414" width="2" height="1"/><rect x="876" y="413" width="2" height="1"/><rect x="878" y="412" width="2" height="1"/><rect x="880" y="411" width="2" height="1"/><rect x="882" y="410" width="2" height="1"/><rect x="884" y="409" width="2" height="1"/><rect x="886" y="408" width="2" height="1"/><rect x="888" y="407" width="2" height="1"/><rect x="890" y="406" width="2" height="1"/><rect x="892" y="405" width="2" height="1"/><rect x="894" y="404" width="2" height="1"/><rect x="896" y="403" width="2" height="1"/><rect x="898" y="402" width="2" height="1"/><rect x="900" y="401" width="2" height="1"/><rect x="902" y="400" width="2" height="1"/><rect x="904" y="399" width="2" height="1"/><rect x="906" y="398" width="2" height="1"/><rect x="908" y="397" width="2" height="1"/><rect x="910" y="396" width="2" height="1"/><rect x="912" y="395" width="2" height="1"/><rect x="914" y="394" width="2" height="1"/><rect x="916" y="393" width="2" height="1"/><rect x="918" y="392" width="2" height="1"/><rect x="920" y="391" width="2" height="1"/><rect x="922" y="390" width="2" height="1"/><rect x="924" y="389" width="2" height="1"/><rect x="926" y="388" width="2" height="1"/><rect x="928" y="387" width="2" height="1"/><rect x="930" y="386" width="2" height="1"/><rect x="932" y="385" width="2" height="1"/><rect x="934" y="384" width="2" height="1"/><rect x="936" y="383" width="2" height="1"/><rect x="938" y="382" width="2" height="1"/><rect x="940" y="381" width="2" height="1"/><rect x="942" y="380" width="2" height="1"/><rect x="944" y="379" width="2" height="1"/><rect x="946" y="378" width="2" height="1"/><rect x="948" y="377" width="2" height="1"/><rect x="950" y="376" width="2" height="1"/><rect x="952" y="375" width="2" height="1"/><rect x="954" y="374" width="2" height="1"/><rect x="956" y="373" width="2" height="1"/><rect x="958" y="372" width="2" height="1"/><rect x="960" y="371" width="2" height="1"/><rect x="962" y="370" width="2" height="1"/><rect x="964" y="369" width="2" height="1"/><rect x="966" y="368" width="2" height="1"/><rect x="968" y="367" width="2" height="1"/><rect x="970" y="366" width="2" height="1"/><rect x="972" y="365" width="2" height="1"/><rect x="974" y="364" width="2" height="1"/><rect x="976" y="363" width="2" height="1"/><rect x="978" y="362" width="2" height="1"/><rect x="980" y="361" width="2" height="1"/><rect x="982" y="360" width="2" height="1"/><rect x="984" y="359" width="2" height="1"/><rect x="986" y="358" width="2" height="1"/><rect x="988" y="357" width="2" height="1"/><rect x="990" y="356" width="2" height="1"/><rect x="992" y="355" width="2" height="1"/><rect x="994" y="354" width="2" height="1"/><rect x="996" y="353" width="2" height="1"/><rect x="998" y="352" width="2" height="1"/><rect x="1000" y="351" width="2" height="1"/><rect x="1002" y="350" width="2" height="1"/><rect x="1004" y="349" width="2" height="1"/><rect x="1006" y="348" width="2" height="1"/><rect x="1008" y="347" width="2" height="1"/><rect x="1010" y="346" width="2" height="1"/><rect x="1012" y="345" width="2" height="1"/><rect x="1014" y="344" width="2" height="1"/><rect x="1016" y="343" width="2" height="1"/><rect x="1018" y="342" width="2" height="1"/><rect x="1020" y="341" width="2" height="1"/><rect x="1022" y="340" width="2" height="1"/><rect x="1024" y="339" width="2" height="1"/><rect x="1026" y="338" width="2" height="1"/><rect x="1028" y="337" width="2" height="1"/><rect x="1030" y="336" width="2" height="1"/><rect x="1032" y="335" width="2" height="1"/><rect x="1034" y="334" width="2" height="1"/><rect x="1036" y="333" width="2" height="1"/><rect x="1038" y="332" width="2" height="1"/><rect x="1040" y="331" width="2" height="1"/><rect x="1042" y="330" width="2" height="1"/><rect x="1044" y="329" width="2" height="1"/><rect x="1046" y="328" width="2" height="1"/><rect x="1048" y="327" width="2" height="1"/><rect x="1050" y="326" width="2" height="1"/><rect x="1052" y="325" width="2" height="1"/><rect x="1054" y="324" width="2" height="1"/><rect x="1056" y="323" width="2" height="1"/><rect x="1058" y="322" width="2" height="1"/><rect x="1060" y="321" width="2" height="1"/><rect x="1062" y="320" width="2" height="1"/><rect x="1064" y="319" width="2" height="1"/><rect x="1066" y="318" width="2" height="1"/><rect x="1068" y="317" width="2" height="1"/><rect x="1070" y="316" width="2" height="1"/><rect x="1072" y="315" width="2" height="1"/><rect x="1074" y="314" width="2" height="1"/><rect x="1076" y="313" width="2" height="1"/><rect x="1078" y="312" width="2" height="1"/><rect x="1080" y="311" width="2" height="1"/><rect x="1082" y="310" width="2" height="1"/><rect x="1084" y="309" width="2" height="1"/><rect x="1086" y="308" width="2" height="1"/><rect x="1088" y="307" width="2" height="1"/><rect x="1090" y="306" width="2" height="1"/><rect x="1092" y="305" width="2" height="1"/><rect x="1094" y="304" width="2" height="1"/><rect x="1096" y="303" width="2" height="1"/><rect x="1098" y="302" width="2" height="1"/><rect x="1100" y="301" width="2" height="1"/><rect x="1102" y="300" width="2" height="1"/><rect x="1104" y="299" width="2" height="1"/><rect x="1106" y="298" width="2" height="1"/><rect x="1108" y="297" width="2" height="1"/><rect x="1110" y="296" width="2" height="1"/><rect x="1112" y="295" width="2" height="1"/><rect x="1114" y="294" width="2" height="1"/><rect x="1116" y="293" width="2" height="1"/></g>
<rect x="48" y="331" width="245" height="32" fill="#fff"/>
<text x="50.5" y="360" font-family='"Liberation Sans", sans-serif' font-size="47" fill="#fdd9c2" stroke="#fdd9c2" stroke-width="1.7" textLength="237" lengthAdjust="spacingAndGlyphs">economies</text>
<text x="297" y="359.5" font-family='"Liberation Sans", sans-serif' font-size="46" fill="#e0e0e0" textLength="93" lengthAdjust="spacingAndGlyphs">.com</text>
<text x="89.5" y="399.5" font-family='"Liberation Sans", sans-serif' font-size="42" fill="#e2e2e2" textLength="22" lengthAdjust="spacingAndGlyphs">F</text>
<text x="135.5" y="399.5" font-family='"Liberation Sans", sans-serif' font-size="42" font-weight="bold" fill="#dedede" textLength="30" lengthAdjust="spacingAndGlyphs">N</text>
<text x="167" y="399.5" font-family='"Liberation Sans", sans-serif' font-size="42" fill="#e2e2e2" textLength="179" lengthAdjust="spacingAndGlyphs">ewsToday</text>
<polyline points="113,378.5 123,386.5 133,378.5" fill="none" stroke="#f0c6c6" stroke-width="3"/>
<polyline points="113,397 123.5,387.5 134.5,397" fill="none" stroke="#c6e6c6" stroke-width="3"/>
<g shape-rendering="crispEdges" fill="#000">
<rect x="4" y="4" width="1229" height="1"/>
<rect x="4" y="464" width="1229" height="1"/>
<rect x="4" y="4" width="1" height="461"/>
<rect x="1232" y="4" width="1" height="461"/>
<rect x="4" y="466" width="1229" height="1"/>
<rect x="4" y="544" width="1229" height="1"/>
<rect x="4" y="466" width="1" height="79"/>
<rect x="1232" y="466" width="1" height="79"/>
<rect x="1233" y="32" width="2" height="1"/>
<rect x="1233" y="65" width="2" height="1"/>
<rect x="1233" y="98" width="2" height="1"/>
<rect x="1233" y="131" width="2" height="1"/>
<rect x="1233" y="164" width="2" height="1"/>
<rect x="1233" y="197" width="2" height="1"/>
<rect x="1233" y="230" width="2" height="1"/>
<rect x="1233" y="263" width="2" height="1"/>
<rect x="1233" y="296" width="2" height="1"/>
<rect x="1233" y="329" width="2" height="1"/>
<rect x="1233" y="362" width="2" height="1"/>
<rect x="1233" y="395" width="2" height="1"/>
<rect x="1233" y="428" width="2" height="1"/>
<rect x="1233" y="461" width="2" height="1"/>
<rect x="1233" y="467" width="1" height="2"/>
<rect x="5" y="545" width="1" height="3"/>
<rect x="69" y="545" width="1" height="3"/>
<rect x="133" y="545" width="1" height="3"/>
<rect x="197" y="545" width="1" height="3"/>
<rect x="261" y="545" width="1" height="3"/>
<rect x="325" y="545" width="1" height="3"/>
<rect x="389" y="545" width="1" height="3"/>
<rect x="453" y="545" width="1" height="3"/>
<rect x="517" y="545" width="1" height="3"/>
<rect x="581" y="545" width="1" height="3"/>
<rect x="645" y="545" width="1" height="3"/>
<rect x="709" y="545" width="1" height="3"/>
<rect x="773" y="545" width="1" height="3"/>
<rect x="837" y="545" width="1" height="3"/>
<rect x="901" y="545" width="1" height="3"/>
<rect x="965" y="545" width="1" height="3"/>
<rect x="1029" y="545" width="1" height="3"/>
</g>
<polygon points="1030,5 1039,5 1034.5,10" fill="#bdbdbd"/>
<polygon points="8,11 15,11 11.5,15" fill="#000"/>
<text x="20.3" y="16" font-family='"Liberation Sans", sans-serif' font-size="10.2" fill="#000" stroke="#000" stroke-width="0.12" textLength="51" lengthAdjust="spacingAndGlyphs">USDJPY,H4</text>
<text x="77.5" y="16" font-family='"Liberation Sans", sans-serif' font-size="10.2" fill="#000" stroke="#000" stroke-width="0.12" textLength="142" lengthAdjust="spacingAndGlyphs">155.819 155.987 155.614 155.650</text>
<text x="1238.5" y="36" font-family='"Liberation Sans", sans-serif' font-size="10.2" fill="#000" stroke="#000" stroke-width="0.12" textLength="33" lengthAdjust="spacingAndGlyphs">159.355</text>
<text x="1238.5" y="69" font-family='"Liberation Sans", sans-serif' font-size="10.2" fill="#000" stroke="#000" stroke-width="0.12" textLength="33" lengthAdjust="spacingAndGlyphs">158.785</text>
<text x="1238.5" y="102" font-family='"Liberation Sans", sans-serif' font-size="10.2" fill="#000" stroke="#000" stroke-width="0.12" textLength="33" lengthAdjust="spacingAndGlyphs">158.215</text>
<text x="1238.5" y="135" font-family='"Liberation Sans", sans-serif' font-size="10.2" fill="#000" stroke="#000" stroke-width="0.12" textLength="33" lengthAdjust="spacingAndGlyphs">157.645</text>
<text x="1238.5" y="168" font-family='"Liberation Sans", sans-serif' font-size="10.2" fill="#000" stroke="#000" stroke-width="0.12" textLength="33" lengthAdjust="spacingAndGlyphs">157.075</text>
<text x="1238.5" y="201" font-family='"Liberation Sans", sans-serif' font-size="10.2" fill="#000" stroke="#000" stroke-width="0.12" textLength="33" lengthAdjust="spacingAndGlyphs">156.505</text>
<text x="1238.5" y="234" font-family='"Liberation Sans", sans-serif' font-size="10.2" fill="#000" stroke="#000" stroke-width="0.12" textLength="33" lengthAdjust="spacingAndGlyphs">155.935</text>
<text x="1238.5" y="267" font-family='"Liberation Sans", sans-serif' font-size="10.2" fill="#000" stroke="#000" stroke-width="0.12" textLength="33" lengthAdjust="spacingAndGlyphs">155.365</text>
<text x="1238.5" y="300" font-family='"Liberation Sans", sans-serif' font-size="10.2" fill="#000" stroke="#000" stroke-width="0.12" textLength="33" lengthAdjust="spacingAndGlyphs">154.795</text>
<text x="1238.5" y="333" font-family='"Liberation Sans", sans-serif' font-size="10.2" fill="#000" stroke="#000" stroke-width="0.12" textLength="33" lengthAdjust="spacingAndGlyphs">154.225</text>
<text x="1238.5" y="366" font-family='"Liberation Sans", sans-serif' font-size="10.2" fill="#000" stroke="#000" stroke-width="0.12" textLength="33" lengthAdjust="spacingAndGlyphs">153.655</text>
<text x="1238.5" y="399" font-family='"Liberation Sans", sans-serif' font-size="10.2" fill="#000" stroke="#000" stroke-width="0.12" textLength="33" lengthAdjust="spacingAndGlyphs">153.085</text>
<text x="1238.5" y="432" font-family='"Liberation Sans", sans-serif' font-size="10.2" fill="#000" stroke="#000" stroke-width="0.12" textLength="33" lengthAdjust="spacingAndGlyphs">152.515</text>
<text x="1238.5" y="465" font-family='"Liberation Sans", sans-serif' font-size="10.2" fill="#000" stroke="#000" stroke-width="0.12" textLength="33" lengthAdjust="spacingAndGlyphs">151.945</text>
<rect x="1234" y="242" width="41" height="11" fill="#000" shape-rendering="crispEdges"/>
<text x="1238.5" y="251" font-family='"Liberation Sans", sans-serif' font-size="10.2" fill="#fff" textLength="33" lengthAdjust="spacingAndGlyphs">155.650</text>
<rect x="1234" y="143" width="41" height="11" fill="#dc143c" shape-rendering="crispEdges"/>
<text x="1238.5" y="152" font-family='"Liberation Sans", sans-serif' font-size="10.2" fill="#fff" textLength="33" lengthAdjust="spacingAndGlyphs">157.335</text>
<rect x="1234" y="239" width="41" height="11" fill="#dc143c" shape-rendering="crispEdges"/>
<text x="1238.5" y="248" font-family='"Liberation Sans", sans-serif' font-size="10.2" fill="#fff" textLength="33" lengthAdjust="spacingAndGlyphs">155.679</text>
<rect x="1234" y="334" width="41" height="11" fill="#3cb371" shape-rendering="crispEdges"/>
<text x="1238.5" y="343" font-family='"Liberation Sans", sans-serif' font-size="10.2" fill="#fff" textLength="33" lengthAdjust="spacingAndGlyphs">154.040</text>
<text x="4" y="557" font-family='"Liberation Sans", sans-serif' font-size="10.2" fill="#000" stroke="#000" stroke-width="0.12" textLength="52.4" lengthAdjust="spacingAndGlyphs">23 Dec 2025</text>
<text x="68" y="557" font-family='"Liberation Sans", sans-serif' font-size="10.2" fill="#000" stroke="#000" stroke-width="0.12" textLength="55.2" lengthAdjust="spacingAndGlyphs">29 Dec 00:00</text>
<text x="132" y="557" font-family='"Liberation Sans", sans-serif' font-size="10.2" fill="#000" stroke="#000" stroke-width="0.12" textLength="48.4" lengthAdjust="spacingAndGlyphs">2 Jan 17:00</text>
<text x="196" y="557" font-family='"Liberation Sans", sans-serif' font-size="10.2" fill="#000" stroke="#000" stroke-width="0.12" textLength="48.7" lengthAdjust="spacingAndGlyphs">7 Jan 08:00</text>
<text x="260" y="557" font-family='"Liberation Sans", sans-serif' font-size="10.2" fill="#000" stroke="#000" stroke-width="0.12" textLength="53.5" lengthAdjust="spacingAndGlyphs">12 Jan 00:00</text>
<text x="324" y="557" font-family='"Liberation Sans", sans-serif' font-size="10.2" fill="#000" stroke="#000" stroke-width="0.12" textLength="52.8" lengthAdjust="spacingAndGlyphs">14 Jan 16:00</text>
<text x="388" y="557" font-family='"Liberation Sans", sans-serif' font-size="10.2" fill="#000" stroke="#000" stroke-width="0.12" textLength="53.5" lengthAdjust="spacingAndGlyphs">19 Jan 08:00</text>
<text x="452" y="557" font-family='"Liberation Sans", sans-serif' font-size="10.2" fill="#000" stroke="#000" stroke-width="0.12" textLength="52.4" lengthAdjust="spacingAndGlyphs">22 Jan 00:00</text>
<text x="516" y="557" font-family='"Liberation Sans", sans-serif' font-size="10.2" fill="#000" stroke="#000" stroke-width="0.12" textLength="53.5" lengthAdjust="spacingAndGlyphs">26 Jan 16:00</text>
<text x="580" y="557" font-family='"Liberation Sans", sans-serif' font-size="10.2" fill="#000" stroke="#000" stroke-width="0.12" textLength="54" lengthAdjust="spacingAndGlyphs">29 Jan 08:00</text>
<text x="644" y="557" font-family='"Liberation Sans", sans-serif' font-size="10.2" fill="#000" stroke="#000" stroke-width="0.12" textLength="50.2" lengthAdjust="spacingAndGlyphs">3 Feb 00:00</text>
<text x="708" y="557" font-family='"Liberation Sans", sans-serif' font-size="10.2" fill="#000" stroke="#000" stroke-width="0.12" textLength="50.9" lengthAdjust="spacingAndGlyphs">5 Feb 16:00</text>
<text x="772" y="557" font-family='"Liberation Sans", sans-serif' font-size="10.2" fill="#000" stroke="#000" stroke-width="0.12" textLength="55.2" lengthAdjust="spacingAndGlyphs">10 Feb 08:00</text>
<text x="836" y="557" font-family='"Liberation Sans", sans-serif' font-size="10.2" fill="#000" stroke="#000" stroke-width="0.12" textLength="54.6" lengthAdjust="spacingAndGlyphs">13 Feb 00:00</text>
<text x="900" y="557" font-family='"Liberation Sans", sans-serif' font-size="10.2" fill="#000" stroke="#000" stroke-width="0.12" textLength="54.6" lengthAdjust="spacingAndGlyphs">17 Feb 16:00</text>
<text x="964" y="557" font-family='"Liberation Sans", sans-serif' font-size="10.2" fill="#000" stroke="#000" stroke-width="0.12" textLength="55.3" lengthAdjust="spacingAndGlyphs">20 Feb 08:00</text>
<text x="1028" y="557" font-family='"Liberation Sans", sans-serif' font-size="10.2" fill="#000" stroke="#000" stroke-width="0.12" textLength="55" lengthAdjust="spacingAndGlyphs">25 Feb 00:00</text>
<g shape-rendering="crispEdges" fill="#b4b4b4">
<rect x="6" y="483" width="3" height="1"/>
<rect x="12" y="483" width="3" height="1"/>
<rect x="18" y="483" width="3" height="1"/>
<rect x="24" y="483" width="3" height="1"/>
<rect x="30" y="483" width="3" height="1"/>
<rect x="36" y="483" width="3" height="1"/>
<rect x="42" y="483" width="3" height="1"/>
<rect x="48" y="483" width="3" height="1"/>
<rect x="54" y="483" width="3" height="1"/>
<rect x="60" y="483" width="3" height="1"/>
<rect x="66" y="483" width="3" height="1"/>
<rect x="72" y="483" width="3" height="1"/>
<rect x="78" y="483" width="3" height="1"/>
<rect x="84" y="483" width="3" height="1"/>
<rect x="90" y="483" width="3" height="1"/>
<rect x="96" y="483" width="3" height="1"/>
<rect x="102" y="483" width="3" height="1"/>
<rect x="108" y="483" width="3" height="1"/>
<rect x="114" y="483" width="3" height="1"/>
<rect x="120" y="483" width="3" height="1"/>
<rect x="126" y="483" width="3" height="1"/>
<rect x="132" y="483" width="3" height="1"/>
<rect x="138" y="483" width="3" height="1"/>
<rect x="144" y="483" width="3" height="1"/>
<rect x="150" y="483" width="3" height="1"/>
<rect x="156" y="483" width="3" height="1"/>
<rect x="162" y="483" width="3" height="1"/>
<rect x="168" y="483" width="3" height="1"/>
<rect x="174" y="483" width="3" height="1"/>
<rect x="180" y="483" width="3" height="1"/>
<rect x="186" y="483" width="3" height="1"/>
<rect x="192" y="483" width="3" height="1"/>
<rect x="198" y="483" width="3" height="1"/>
<rect x="204" y="483" width="3" height="1"/>
<rect x="210" y="483" width="3" height="1"/>
<rect x="216" y="483" width="3" height="1"/>
<rect x="222" y="483" width="3" height="1"/>
<rect x="228" y="483" width="3" height="1"/>
<rect x="234" y="483" width="3" height="1"/>
<rect x="240" y="483" width="3" height="1"/>
<rect x="246" y="483" width="3" height="1"/>
<rect x="252" y="483" width="3" height="1"/>
<rect x="258" y="483" width="3" height="1"/>
<rect x="264" y="483" width="3" height="1"/>
<rect x="270" y="483" width="3" height="1"/>
<rect x="276" y="483" width="3" height="1"/>
<rect x="282" y="483" width="3" height="1"/>
<rect x="288" y="483" width="3" height="1"/>
<rect x="294" y="483" width="3" height="1"/>
<rect x="300" y="483" width="3" height="1"/>
<rect x="306" y="483" width="3" height="1"/>
<rect x="312" y="483" width="3" height="1"/>
<rect x="318" y="483" width="3" height="1"/>
<rect x="324" y="483" width="3" height="1"/>
<rect x="330" y="483" width="3" height="1"/>
<rect x="336" y="483" width="3" height="1"/>
<rect x="342" y="483" width="3" height="1"/>
<rect x="348" y="483" width="3" height="1"/>
<rect x="354" y="483" width="3" height="1"/>
<rect x="360" y="483" width="3" height="1"/>
<rect x="366" y="483" width="3" height="1"/>
<rect x="372" y="483" width="3" height="1"/>
<rect x="378" y="483" width="3" height="1"/>
<rect x="384" y="483" width="3" height="1"/>
<rect x="390" y="483" width="3" height="1"/>
<rect x="396" y="483" width="3" height="1"/>
<rect x="402" y="483" width="3" height="1"/>
<rect x="408" y="483" width="3" height="1"/>
<rect x="414" y="483" width="3" height="1"/>
<rect x="420" y="483" width="3" height="1"/>
<rect x="426" y="483" width="3" height="1"/>
<rect x="432" y="483" width="3" height="1"/>
<rect x="438" y="483" width="3" height="1"/>
<rect x="444" y="483" width="3" height="1"/>
<rect x="450" y="483" width="3" height="1"/>
<rect x="456" y="483" width="3" height="1"/>
<rect x="462" y="483" width="3" height="1"/>
<rect x="468" y="483" width="3" height="1"/>
<rect x="474" y="483" width="3" height="1"/>
<rect x="480" y="483" width="3" height="1"/>
<rect x="486" y="483" width="3" height="1"/>
<rect x="492" y="483" width="3" height="1"/>
<rect x="498" y="483" width="3" height="1"/>
<rect x="504" y="483" width="3" height="1"/>
<rect x="510" y="483" width="3" height="1"/>
<rect x="516" y="483" width="3" height="1"/>
<rect x="522" y="483" width="3" height="1"/>
<rect x="528" y="483" width="3" height="1"/>
<rect x="534" y="483" width="3" height="1"/>
<rect x="540" y="483" width="3" height="1"/>
<rect x="546" y="483" width="3" height="1"/>
<rect x="552" y="483" width="3" height="1"/>
<rect x="558" y="483" width="3" height="1"/>
<rect x="564" y="483" width="3" height="1"/>
<rect x="570" y="483" width="3" height="1"/>
<rect x="576" y="483" width="3" height="1"/>
<rect x="582" y="483" width="3" height="1"/>
<rect x="588" y="483" width="3" height="1"/>
<rect x="594" y="483" width="3" height="1"/>
<rect x="600" y="483" width="3" height="1"/>
<rect x="606" y="483" width="3" height="1"/>
<rect x="612" y="483" width="3" height="1"/>
<rect x="618" y="483" width="3" height="1"/>
<rect x="624" y="483" width="3" height="1"/>
<rect x="630" y="483" width="3" height="1"/>
<rect x="636" y="483" width="3" height="1"/>
<rect x="642" y="483" width="3" height="1"/>
<rect x="648" y="483" width="3" height="1"/>
<rect x="654" y="483" width="3" height="1"/>
<rect x="660" y="483" width="3" height="1"/>
<rect x="666" y="483" width="3" height="1"/>
<rect x="672" y="483" width="3" height="1"/>
<rect x="678" y="483" width="3" height="1"/>
<rect x="684" y="483" width="3" height="1"/>
<rect x="690" y="483" width="3" height="1"/>
<rect x="696" y="483" width="3" height="1"/>
<rect x="702" y="483" width="3" height="1"/>
<rect x="708" y="483" width="3" height="1"/>
<rect x="714" y="483" width="3" height="1"/>
<rect x="720" y="483" width="3" height="1"/>
<rect x="726" y="483" width="3" height="1"/>
<rect x="732" y="483" width="3" height="1"/>
<rect x="738" y="483" width="3" height="1"/>
<rect x="744" y="483" width="3" height="1"/>
<rect x="750" y="483" width="3" height="1"/>
<rect x="756" y="483" width="3" height="1"/>
<rect x="762" y="483" width="3" height="1"/>
<rect x="768" y="483" width="3" height="1"/>
<rect x="774" y="483" width="3" height="1"/>
<rect x="780" y="483" width="3" height="1"/>
<rect x="786" y="483" width="3" height="1"/>
<rect x="792" y="483" width="3" height="1"/>
<rect x="798" y="483" width="3" height="1"/>
<rect x="804" y="483" width="3" height="1"/>
<rect x="810" y="483" width="3" height="1"/>
<rect x="816" y="483" width="3" height="1"/>
<rect x="822" y="483" width="3" height="1"/>
<rect x="828" y="483" width="3" height="1"/>
<rect x="834" y="483" width="3" height="1"/>
<rect x="840" y="483" width="3" height="1"/>
<rect x="846" y="483" width="3" height="1"/>
<rect x="852" y="483" width="3" height="1"/>
<rect x="858" y="483" width="3" height="1"/>
<rect x="864" y="483" width="3" height="1"/>
<rect x="870" y="483" width="3" height="1"/>
<rect x="876" y="483" width="3" height="1"/>
<rect x="882" y="483" width="3" height="1"/>
<rect x="888" y="483" width="3" height="1"/>
<rect x="894" y="483" width="3" height="1"/>
<rect x="900" y="483" width="3" height="1"/>
<rect x="906" y="483" width="3" height="1"/>
<rect x="912" y="483" width="3" height="1"/>
<rect x="918" y="483" width="3" height="1"/>
<rect x="924" y="483" width="3" height="1"/>
<rect x="930" y="483" width="3" height="1"/>
<rect x="936" y="483" width="3" height="1"/>
<rect x="942" y="483" width="3" height="1"/>
<rect x="948" y="483" width="3" height="1"/>
<rect x="954" y="483" width="3" height="1"/>
<rect x="960" y="483" width="3" height="1"/>
<rect x="966" y="483" width="3" height="1"/>
<rect x="972" y="483" width="3" height="1"/>
<rect x="978" y="483" width="3" height="1"/>
<rect x="984" y="483" width="3" height="1"/>
<rect x="990" y="483" width="3" height="1"/>
<rect x="996" y="483" width="3" height="1"/>
<rect x="1002" y="483" width="3" height="1"/>
<rect x="1008" y="483" width="3" height="1"/>
<rect x="1014" y="483" width="3" height="1"/>
<rect x="1020" y="483" width="3" height="1"/>
<rect x="1026" y="483" width="3" height="1"/>
<rect x="1032" y="483" width="3" height="1"/>
<rect x="1038" y="483" width="3" height="1"/>
<rect x="1044" y="483" width="3" height="1"/>
<rect x="1050" y="483" width="3" height="1"/>
<rect x="1056" y="483" width="3" height="1"/>
<rect x="1062" y="483" width="3" height="1"/>
<rect x="1068" y="483" width="3" height="1"/>
<rect x="1074" y="483" width="3" height="1"/>
<rect x="1080" y="483" width="3" height="1"/>
<rect x="1086" y="483" width="3" height="1"/>
<rect x="1092" y="483" width="3" height="1"/>
<rect x="1098" y="483" width="3" height="1"/>
<rect x="1104" y="483" width="3" height="1"/>
<rect x="1110" y="483" width="3" height="1"/>
<rect x="1116" y="483" width="3" height="1"/>
<rect x="1122" y="483" width="3" height="1"/>
<rect x="1128" y="483" width="3" height="1"/>
<rect x="1134" y="483" width="3" height="1"/>
<rect x="1140" y="483" width="3" height="1"/>
<rect x="1146" y="483" width="3" height="1"/>
<rect x="1152" y="483" width="3" height="1"/>
<rect x="1158" y="483" width="3" height="1"/>
<rect x="1164" y="483" width="3" height="1"/>
<rect x="1170" y="483" width="3" height="1"/>
<rect x="1176" y="483" width="3" height="1"/>
<rect x="1182" y="483" width="3" height="1"/>
<rect x="1188" y="483" width="3" height="1"/>
<rect x="1194" y="483" width="3" height="1"/>
<rect x="1200" y="483" width="3" height="1"/>
<rect x="1206" y="483" width="3" height="1"/>
<rect x="1212" y="483" width="3" height="1"/>
<rect x="1218" y="483" width="3" height="1"/>
<rect x="1224" y="483" width="3" height="1"/>
<rect x="1230" y="483" width="3" height="1"/>
<rect x="6" y="528" width="3" height="1"/>
<rect x="12" y="528" width="3" height="1"/>
<rect x="18" y="528" width="3" height="1"/>
<rect x="24" y="528" width="3" height="1"/>
<rect x="30" y="528" width="3" height="1"/>
<rect x="36" y="528" width="3" height="1"/>
<rect x="42" y="528" width="3" height="1"/>
<rect x="48" y="528" width="3" height="1"/>
<rect x="54" y="528" width="3" height="1"/>
<rect x="60" y="528" width="3" height="1"/>
<rect x="66" y="528" width="3" height="1"/>
<rect x="72" y="528" width="3" height="1"/>
<rect x="78" y="528" width="3" height="1"/>
<rect x="84" y="528" width="3" height="1"/>
<rect x="90" y="528" width="3" height="1"/>
<rect x="96" y="528" width="3" height="1"/>
<rect x="102" y="528" width="3" height="1"/>
<rect x="108" y="528" width="3" height="1"/>
<rect x="114" y="528" width="3" height="1"/>
<rect x="120" y="528" width="3" height="1"/>
<rect x="126" y="528" width="3" height="1"/>
<rect x="132" y="528" width="3" height="1"/>
<rect x="138" y="528" width="3" height="1"/>
<rect x="144" y="528" width="3" height="1"/>
<rect x="150" y="528" width="3" height="1"/>
<rect x="156" y="528" width="3" height="1"/>
<rect x="162" y="528" width="3" height="1"/>
<rect x="168" y="528" width="3" height="1"/>
<rect x="174" y="528" width="3" height="1"/>
<rect x="180" y="528" width="3" height="1"/>
<rect x="186" y="528" width="3" height="1"/>
<rect x="192" y="528" width="3" height="1"/>
<rect x="198" y="528" width="3" height="1"/>
<rect x="204" y="528" width="3" height="1"/>
<rect x="210" y="528" width="3" height="1"/>
<rect x="216" y="528" width="3" height="1"/>
<rect x="222" y="528" width="3" height="1"/>
<rect x="228" y="528" width="3" height="1"/>
<rect x="234" y="528" width="3" height="1"/>
<rect x="240" y="528" width="3" height="1"/>
<rect x="246" y="528" width="3" height="1"/>
<rect x="252" y="528" width="3" height="1"/>
<rect x="258" y="528" width="3" height="1"/>
<rect x="264" y="528" width="3" height="1"/>
<rect x="270" y="528" width="3" height="1"/>
<rect x="276" y="528" width="3" height="1"/>
<rect x="282" y="528" width="3" height="1"/>
<rect x="288" y="528" width="3" height="1"/>
<rect x="294" y="528" width="3" height="1"/>
<rect x="300" y="528" width="3" height="1"/>
<rect x="306" y="528" width="3" height="1"/>
<rect x="312" y="528" width="3" height="1"/>
<rect x="318" y="528" width="3" height="1"/>
<rect x="324" y="528" width="3" height="1"/>
<rect x="330" y="528" width="3" height="1"/>
<rect x="336" y="528" width="3" height="1"/>
<rect x="342" y="528" width="3" height="1"/>
<rect x="348" y="528" width="3" height="1"/>
<rect x="354" y="528" width="3" height="1"/>
<rect x="360" y="528" width="3" height="1"/>
<rect x="366" y="528" width="3" height="1"/>
<rect x="372" y="528" width="3" height="1"/>
<rect x="378" y="528" width="3" height="1"/>
<rect x="384" y="528" width="3" height="1"/>
<rect x="390" y="528" width="3" height="1"/>
<rect x="396" y="528" width="3" height="1"/>
<rect x="402" y="528" width="3" height="1"/>
<rect x="408" y="528" width="3" height="1"/>
<rect x="414" y="528" width="3" height="1"/>
<rect x="420" y="528" width="3" height="1"/>
<rect x="426" y="528" width="3" height="1"/>
<rect x="432" y="528" width="3" height="1"/>
<rect x="438" y="528" width="3" height="1"/>
<rect x="444" y="528" width="3" height="1"/>
<rect x="450" y="528" width="3" height="1"/>
<rect x="456" y="528" width="3" height="1"/>
<rect x="462" y="528" width="3" height="1"/>
<rect x="468" y="528" width="3" height="1"/>
<rect x="474" y="528" width="3" height="1"/>
<rect x="480" y="528" width="3" height="1"/>
<rect x="486" y="528" width="3" height="1"/>
<rect x="492" y="528" width="3" height="1"/>
<rect x="498" y="528" width="3" height="1"/>
<rect x="504" y="528" width="3" height="1"/>
<rect x="510" y="528" width="3" height="1"/>
<rect x="516" y="528" width="3" height="1"/>
<rect x="522" y="528" width="3" height="1"/>
<rect x="528" y="528" width="3" height="1"/>
<rect x="534" y="528" width="3" height="1"/>
<rect x="540" y="528" width="3" height="1"/>
<rect x="546" y="528" width="3" height="1"/>
<rect x="552" y="528" width="3" height="1"/>
<rect x="558" y="528" width="3" height="1"/>
<rect x="564" y="528" width="3" height="1"/>
<rect x="570" y="528" width="3" height="1"/>
<rect x="576" y="528" width="3" height="1"/>
<rect x="582" y="528" width="3" height="1"/>
<rect x="588" y="528" width="3" height="1"/>
<rect x="594" y="528" width="3" height="1"/>
<rect x="600" y="528" width="3" height="1"/>
<rect x="606" y="528" width="3" height="1"/>
<rect x="612" y="528" width="3" height="1"/>
<rect x="618" y="528" width="3" height="1"/>
<rect x="624" y="528" width="3" height="1"/>
<rect x="630" y="528" width="3" height="1"/>
<rect x="636" y="528" width="3" height="1"/>
<rect x="642" y="528" width="3" height="1"/>
<rect x="648" y="528" width="3" height="1"/>
<rect x="654" y="528" width="3" height="1"/>
<rect x="660" y="528" width="3" height="1"/>
<rect x="666" y="528" width="3" height="1"/>
<rect x="672" y="528" width="3" height="1"/>
<rect x="678" y="528" width="3" height="1"/>
<rect x="684" y="528" width="3" height="1"/>
<rect x="690" y="528" width="3" height="1"/>
<rect x="696" y="528" width="3" height="1"/>
<rect x="702" y="528" width="3" height="1"/>
<rect x="708" y="528" width="3" height="1"/>
<rect x="714" y="528" width="3" height="1"/>
<rect x="720" y="528" width="3" height="1"/>
<rect x="726" y="528" width="3" height="1"/>
<rect x="732" y="528" width="3" height="1"/>
<rect x="738" y="528" width="3" height="1"/>
<rect x="744" y="528" width="3" height="1"/>
<rect x="750" y="528" width="3" height="1"/>
<rect x="756" y="528" width="3" height="1"/>
<rect x="762" y="528" width="3" height="1"/>
<rect x="768" y="528" width="3" height="1"/>
<rect x="774" y="528" width="3" height="1"/>
<rect x="780" y="528" width="3" height="1"/>
<rect x="786" y="528" width="3" height="1"/>
<rect x="792" y="528" width="3" height="1"/>
<rect x="798" y="528" width="3" height="1"/>
<rect x="804" y="528" width="3" height="1"/>
<rect x="810" y="528" width="3" height="1"/>
<rect x="816" y="528" width="3" height="1"/>
<rect x="822" y="528" width="3" height="1"/>
<rect x="828" y="528" width="3" height="1"/>
<rect x="834" y="528" width="3" height="1"/>
<rect x="840" y="528" width="3" height="1"/>
<rect x="846" y="528" width="3" height="1"/>
<rect x="852" y="528" width="3" height="1"/>
<rect x="858" y="528" width="3" height="1"/>
<rect x="864" y="528" width="3" height="1"/>
<rect x="870" y="528" width="3" height="1"/>
<rect x="876" y="528" width="3" height="1"/>
<rect x="882" y="528" width="3" height="1"/>
<rect x="888" y="528" width="3" height="1"/>
<rect x="894" y="528" width="3" height="1"/>
<rect x="900" y="528" width="3" height="1"/>
<rect x="906" y="528" width="3" height="1"/>
<rect x="912" y="528" width="3" height="1"/>
<rect x="918" y="528" width="3" height="1"/>
<rect x="924" y="528" width="3" height="1"/>
<rect x="930" y="528" width="3" height="1"/>
<rect x="936" y="528" width="3" height="1"/>
<rect x="942" y="528" width="3" height="1"/>
<rect x="948" y="528" width="3" height="1"/>
<rect x="954" y="528" width="3" height="1"/>
<rect x="960" y="528" width="3" height="1"/>
<rect x="966" y="528" width="3" height="1"/>
<rect x="972" y="528" width="3" height="1"/>
<rect x="978" y="528" width="3" height="1"/>
<rect x="984" y="528" width="3" height="1"/>
<rect x="990" y="528" width="3" height="1"/>
<rect x="996" y="528" width="3" height="1"/>
<rect x="1002" y="528" width="3" height="1"/>
<rect x="1008" y="528" width="3" height="1"/>
<rect x="1014" y="528" width="3" height="1"/>
<rect x="1020" y="528" width="3" height="1"/>
<rect x="1026" y="528" width="3" height="1"/>
<rect x="1032" y="528" width="3" height="1"/>
<rect x="1038" y="528" width="3" height="1"/>
<rect x="1044" y="528" width="3" height="1"/>
<rect x="1050" y="528" width="3" height="1"/>
<rect x="1056" y="528" width="3" height="1"/>
<rect x="1062" y="528" width="3" height="1"/>
<rect x="1068" y="528" width="3" height="1"/>
<rect x="1074" y="528" width="3" height="1"/>
<rect x="1080" y="528" width="3" height="1"/>
<rect x="1086" y="528" width="3" height="1"/>
<rect x="1092" y="528" width="3" height="1"/>
<rect x="1098" y="528" width="3" height="1"/>
<rect x="1104" y="528" width="3" height="1"/>
<rect x="1110" y="528" width="3" height="1"/>
<rect x="1116" y="528" width="3" height="1"/>
<rect x="1122" y="528" width="3" height="1"/>
<rect x="1128" y="528" width="3" height="1"/>
<rect x="1134" y="528" width="3" height="1"/>
<rect x="1140" y="528" width="3" height="1"/>
<rect x="1146" y="528" width="3" height="1"/>
<rect x="1152" y="528" width="3" height="1"/>
<rect x="1158" y="528" width="3" height="1"/>
<rect x="1164" y="528" width="3" height="1"/>
<rect x="1170" y="528" width="3" height="1"/>
<rect x="1176" y="528" width="3" height="1"/>
<rect x="1182" y="528" width="3" height="1"/>
<rect x="1188" y="528" width="3" height="1"/>
<rect x="1194" y="528" width="3" height="1"/>
<rect x="1200" y="528" width="3" height="1"/>
<rect x="1206" y="528" width="3" height="1"/>
<rect x="1212" y="528" width="3" height="1"/>
<rect x="1218" y="528" width="3" height="1"/>
<rect x="1224" y="528" width="3" height="1"/>
<rect x="1230" y="528" width="3" height="1"/>
</g>
<polyline points="5,530.1 9,534.1 13,525.6 17,517.0 21,506.7 25,512.0 29,519.2 33,524.0 37,523.0 41,512.9 45,510.0 49,500.0 53,489.0 57,478.0 61,481.2 65,486.6 69,495.6 73,508.9 77,515.4 81,522.3 85,513.7 89,518.3 93,506.4 97,512.9 101,514.4 105,510.0 109,495.1 113,482.9 117,482.1 121,478.4 125,474.8 129,486.9 133,491.4 137,495.8 141,481.8 145,486.7 149,505.5 153,518.2 157,534.4 161,526.9 165,530.0 169,522.5 173,520.9 177,514.2 181,498.6 185,490.9 189,482.2 193,501.1 197,508.4 201,524.3 205,507.6 209,501.1 213,483.9 217,494.1 221,498.6 225,498.5 229,489.7 233,487.5 237,485.7 241,479.4 245,474.0 249,474.1 253,478.4 257,483.0 261,485.7 265,486.8 269,491.0 273,496.6 277,493.7 281,486.0 285,474.9 289,477.2 293,478.5 297,480.9 301,479.7 305,476.8 309,479.9 313,487.2 317,506.5 321,526.2 325,533.2 329,533.0 333,525.0 337,517.1 341,503.8 345,490.8 349,499.2 353,499.2 357,511.4 361,509.8 365,517.8 369,524.9 373,527.0 377,523.4 381,512.0 385,510.4 389,506.2 393,502.7 397,492.2 401,485.2 405,485.4 409,484.7 413,505.6 417,506.0 421,511.2 425,501.5 429,504.8 433,499.4 437,503.7 441,493.7 445,493.1 449,486.0 453,479.9 457,478.1 461,479.1 465,485.3 469,504.4 473,515.8 477,517.1 481,498.1 485,499.9 489,503.0 493,523.0 497,533.1 501,541.0 505,539.6 509,539.8 513,537.1 517,532.2 521,516.8 525,497.0 529,480.7 533,494.3 537,511.8 541,530.1 545,536.0 549,532.4 553,527.5 557,519.7 561,509.3 565,489.8 569,484.8 573,492.5 577,505.3 581,508.7 585,513.8 589,514.0 593,518.6 597,498.8 601,487.8 605,479.0 609,476.5 613,477.8 617,475.5 621,480.4 625,490.0 629,500.1 633,501.8 637,489.0 641,479.7 645,481.2 649,488.0 653,485.5 657,485.4 661,488.3 665,496.4 669,489.2 673,477.9 677,471.2 681,478.9 685,479.2 689,482.6 693,477.4 697,478.9 701,476.6 705,487.0 709,498.6 713,506.9 717,510.9 721,511.5 725,510.9 729,503.4 733,488.4 737,484.7 741,495.2 745,512.9 749,519.8 753,530.8 757,531.1 761,532.9 765,532.6 769,532.5 773,536.5 777,534.8 781,533.9 785,531.2 789,533.2 793,535.0 797,533.1 801,525.1 805,526.3 809,526.2 813,534.5 817,524.7 821,519.4 825,506.2 829,505.6 833,512.4 837,511.0 841,503.5 845,490.4 849,493.0 853,506.4 857,526.4 861,526.6 865,517.3 869,496.8 873,487.8 877,482.2 881,483.9 885,496.4 889,519.7 893,530.0 897,514.8 901,504.9 905,501.6 909,501.9 913,503.2 917,493.1 921,483.9 925,472.0 929,471.4 933,471.3 937,474.4 941,484.2 945,488.1 949,500.6 953,496.3 957,498.9 961,490.3 965,492.9 969,496.4 973,507.2 977,508.8 981,524.6 985,524.3 989,519.8 993,511.4 997,507.2 1001,508.3 1005,500.9 1009,494.3 1013,485.8 1017,483.6 1021,484.2 1025,487.1 1029,494.3" fill="none" stroke="#6a8fd6" stroke-width="1" shape-rendering="crispEdges"/>
<polyline points="5,528.4 9,530.8 13,529.6 17,525.4 21,517.5 25,512.0 29,514.0 33,518.8 37,522.2 41,520.0 45,516.0 49,509.0 53,499.6 57,487.7 61,482.7 65,481.9 69,487.8 73,497.1 77,506.7 81,515.6 85,517.2 89,518.1 93,512.8 97,512.5 101,511.2 105,512.4 109,506.5 113,496.0 117,486.7 121,481.1 125,478.4 129,480.0 133,484.3 137,491.4 141,489.7 145,488.1 149,491.4 153,503.5 157,519.4 161,526.5 165,530.4 169,526.5 173,524.5 177,519.2 181,511.2 185,501.2 189,490.6 193,491.4 197,497.3 201,511.3 205,513.4 209,511.0 213,497.5 217,493.0 221,492.2 225,497.1 229,495.6 233,491.9 237,487.6 241,484.2 245,479.7 249,475.8 253,475.5 257,478.5 261,482.4 265,485.2 269,487.8 273,491.5 277,493.8 281,492.1 285,484.9 289,479.3 293,476.9 297,478.9 301,479.7 305,479.2 309,478.8 313,481.3 317,491.2 321,506.6 325,522.0 329,530.8 333,530.4 337,525.0 341,515.3 345,503.9 349,497.9 353,496.4 357,503.3 361,506.8 365,513.0 369,517.5 373,523.2 377,525.1 381,520.8 385,515.3 389,509.5 393,506.5 397,500.4 401,493.4 405,487.6 409,485.1 413,491.9 417,498.8 421,507.6 425,506.2 429,505.8 433,501.9 437,502.6 441,498.9 445,496.8 449,490.9 453,486.3 457,481.3 461,479.0 465,480.8 469,489.6 473,501.8 477,512.4 481,510.4 485,505.1 489,500.4 493,508.7 497,519.7 501,532.4 505,537.9 509,540.2 513,538.9 517,536.4 521,528.7 525,515.3 529,498.1 533,490.6 537,495.6 541,512.0 545,525.9 549,532.8 553,532.0 557,526.5 561,518.9 565,506.3 569,494.6 573,489.0 577,494.2 581,502.2 585,509.3 589,512.2 593,515.5 597,510.5 601,501.7 605,488.5 609,481.1 613,477.7 617,476.6 621,477.9 625,482.0 629,490.2 633,497.3 637,497.0 641,490.2 645,483.3 649,483.0 653,484.9 657,486.3 661,486.4 665,490.0 669,491.3 673,487.8 677,479.4 681,476.0 685,476.5 689,480.2 693,479.8 697,479.6 701,477.6 705,480.8 709,487.4 713,497.5 717,505.5 721,509.8 725,511.1 729,508.6 733,500.9 737,492.2 741,489.5 745,497.6 749,509.3 753,521.2 757,527.3 761,531.6 765,532.2 769,532.7 773,533.9 777,534.6 781,535.1 785,533.3 789,532.7 793,533.1 797,533.7 801,531.0 805,528.1 809,525.9 813,529.0 817,528.5 821,526.2 825,516.8 829,510.4 833,508.1 837,509.7 841,508.9 845,501.6 849,495.6 853,496.6 857,508.6 861,519.8 865,523.4 869,513.6 873,500.6 877,488.9 881,484.6 885,487.5 889,500.0 893,515.4 897,521.5 901,516.6 905,507.1 909,502.8 913,502.2 917,499.4 921,493.4 925,483.0 929,475.8 933,471.5 937,472.3 941,476.6 945,482.2 949,491.0 953,495.0 957,498.6 961,495.2 965,494.0 969,493.2 973,498.8 977,504.1 981,513.5 985,519.2 989,522.9 993,518.5 997,512.8 1001,508.9 1005,505.5 1009,501.2 1013,493.7 1017,487.9 1021,484.5 1025,485.0 1029,488.6" fill="none" stroke="#b4152c" stroke-width="1" shape-rendering="crispEdges"/>
<text x="9" y="479" font-family='"Liberation Sans", sans-serif' font-size="10.2" fill="#000" stroke="#000" stroke-width="0.12" textLength="113" lengthAdjust="spacingAndGlyphs">Sto(5,3,3) 64.8733 72.7687</text>
<text x="1236.5" y="477" font-family='"Liberation Sans", sans-serif' font-size="10.2" fill="#000" stroke="#000" stroke-width="0.12" letter-spacing="-0.55">100</text>
<text x="1235.5" y="487" font-family='"Liberation Sans", sans-serif' font-size="10.2" fill="#000" stroke="#000" stroke-width="0.12" letter-spacing="-0.55">80</text>
<text x="1235.5" y="532" font-family='"Liberation Sans", sans-serif' font-size="10.2" fill="#000" stroke="#000" stroke-width="0.12" letter-spacing="-0.55">20</text>
<text x="1236" y="541" font-family='"Liberation Sans", sans-serif' font-size="10.2" fill="#000" stroke="#000" stroke-width="0.12" letter-spacing="-0.55">0</text>
</svg>
</body></html>
